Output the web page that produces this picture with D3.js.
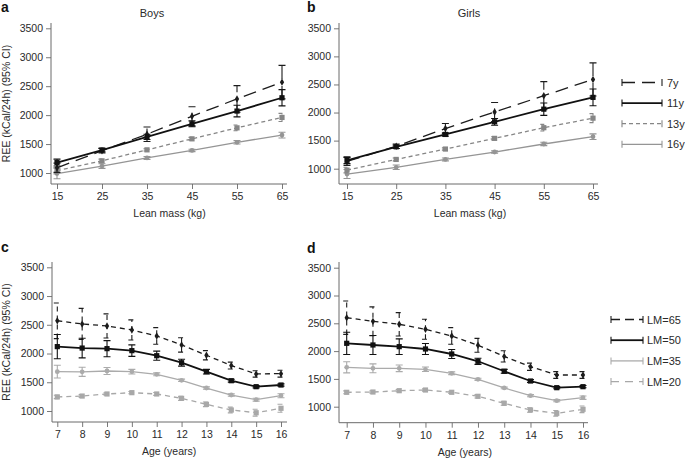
<!DOCTYPE html>
<html><head><meta charset="utf-8">
<script src="https://cdn.jsdelivr.net/npm/d3@7"></script>
<style>
html,body{margin:0;padding:0;background:#fff;}
svg{display:block;font-family:"Liberation Sans",Arial,Helvetica,sans-serif;}
</style></head>
<body><svg id="chart" width="685" height="459"></svg>
<script>
// ---------------- data ----------------
const leanMassTicks = [15, 25, 35, 45, 55, 65];
const ageTicks = [7, 8, 9, 10, 11, 12, 13, 14, 15, 16];
const reeTicks = [1000, 1500, 2000, 2500, 3000, 3500];

const ageGroups = ["7y", "11y", "13y", "16y"];
const leanMassGroups = ["LM=65", "LM=50", "LM=35", "LM=20"];

// Panel a: Boys, REE by lean mass (mean and half-width of 95% CI)
const boys7y    = [1090, 1385, 1670, 1980, 2280, 2570];
const boys7yCI  = [80, 40, 125, 165, 230, 290];
const boys11y   = [1180, 1395, 1625, 1850, 2070, 2300];
const boys11yCI = [60, 30, 45, 50, 100, 140];
const boys13y   = [1040, 1210, 1400, 1590, 1780, 1960];
const boys13yCI = [55, 30, 20, 25, 50, 70];
const boys16y   = [990, 1120, 1260, 1390, 1530, 1655];
const boys16yCI = [90, 40, 25, 20, 30, 50];

// Panel b: Girls, REE by lean mass
const girls7y    = [1130, 1400, 1715, 2010, 2300, 2590];
const girls7yCI  = [70, 40, 90, 170, 250, 295];
const girls11y   = [1150, 1390, 1610, 1835, 2060, 2270];
const girls11yCI = [60, 30, 30, 60, 110, 150];
const girls13y   = [975, 1165, 1350, 1540, 1730, 1900];
const girls13yCI = [50, 25, 20, 30, 60, 80];
const girls16y   = [905, 1025, 1165, 1297, 1440, 1570];
const girls16yCI = [80, 40, 25, 20, 30, 50];

// Panel c: Boys, REE by age
const boysLM65   = [2570, 2515, 2480, 2410, 2305, 2150, 1970, 1790, 1645, 1650];
const boysLM65CI = [310, 270, 210, 175, 145, 125, 80, 60, 55, 60];
const boysLM50   = [2120, 2095, 2085, 2050, 1962, 1840, 1685, 1527, 1423, 1452];
const boysLM50CI = [210, 170, 140, 100, 80, 60, 40, 25, 20, 20];
const boysLM35   = [1685, 1682, 1696, 1684, 1638, 1534, 1400, 1278, 1197, 1266];
const boysLM35CI = [110, 80, 60, 40, 25, 20, 20, 20, 25, 35];
const boysLM20   = [1245, 1260, 1296, 1319, 1296, 1220, 1116, 1017, 970, 1047];
const boysLM20CI = [30, 25, 20, 20, 25, 35, 40, 50, 60, 70];

// Panel d: Girls, REE by age
const girlsLM65   = [2600, 2535, 2482, 2392, 2272, 2104, 1905, 1719, 1570, 1570];
const girlsLM65CI = [300, 260, 210, 180, 150, 125, 100, 65, 60, 60];
const girlsLM50   = [2140, 2110, 2080, 2038, 1948, 1817, 1637, 1462, 1342, 1360];
const girlsLM50CI = [200, 170, 140, 100, 80, 55, 35, 25, 20, 20];
const girlsLM35   = [1709, 1691, 1691, 1673, 1601, 1493, 1337, 1198, 1108, 1162];
const girlsLM35CI = [100, 80, 60, 40, 25, 20, 15, 20, 20, 30];
const girlsLM20   = [1259, 1264, 1288, 1300, 1259, 1187, 1061, 941, 881, 953];
const girlsLM20CI = [25, 20, 20, 20, 20, 30, 35, 40, 50, 60];

// ---------------- styles ----------------
const ageStyles = {
  "7y":  {color: "#1c1c1c", width: 1.3, dash: "13,7", marker: "diamond"},
  "11y": {color: "#111111", width: 1.8, dash: null, marker: "square"},
  "13y": {color: "#868686", width: 1.3, dash: "4,3", marker: "square"},
  "16y": {color: "#959595", width: 1.3, dash: null, marker: "circle"}
};
const lmStyles = {
  "LM=65": {color: "#1c1c1c", width: 1.3, dash: "5,4", marker: "diamond", legendDash: "9,5"},
  "LM=50": {color: "#111111", width: 1.8, dash: null, marker: "square"},
  "LM=35": {color: "#ababab", width: 1.3, dash: null, marker: "circle"},
  "LM=20": {color: "#a8a8a8", width: 1.3, dash: "5,4", marker: "square", legendDash: "8,6"}
};

// ---------------- layout ----------------
const panels = [
  {letter: "a", title: "Boys", titleX: 152, xTicks: leanMassTicks, xLabel: "Lean mass (kg)", yLabel: true,
   xPix: [57, 282], yPix: [173, 28.3], left: 51, right: 287, top: 23, bottom: 184, letterX: 1, letterY: 12,
   groups: ageGroups, styles: ageStyles,
   series: [[boys7y, boys7yCI], [boys11y, boys11yCI], [boys13y, boys13yCI], [boys16y, boys16yCI]]},
  {letter: "b", title: "Girls", titleX: 469, xTicks: leanMassTicks, xLabel: "Lean mass (kg)", yLabel: false,
   xPix: [347, 593], yPix: [168.7, 28.3], left: 339, right: 598, top: 23, bottom: 184, letterX: 307, letterY: 12,
   groups: ageGroups, styles: ageStyles,
   series: [[girls7y, girls7yCI], [girls11y, girls11yCI], [girls13y, girls13yCI], [girls16y, girls16yCI]]},
  {letter: "c", title: null, xTicks: ageTicks, xLabel: "Age (years)", yLabel: true,
   xPix: [57.3, 281], yPix: [411, 267.3], left: 52, right: 287, top: 262, bottom: 422, letterX: 1, letterY: 252,
   groups: leanMassGroups, styles: lmStyles,
   series: [[boysLM65, boysLM65CI], [boysLM50, boysLM50CI], [boysLM35, boysLM35CI], [boysLM20, boysLM20CI]]},
  {letter: "d", title: null, xTicks: ageTicks, xLabel: "Age (years)", yLabel: false,
   xPix: [346.7, 583], yPix: [406.7, 267.7], left: 339, right: 588, top: 262, bottom: 422.7, letterX: 307, letterY: 253,
   groups: leanMassGroups, styles: lmStyles,
   series: [[girlsLM65, girlsLM65CI], [girlsLM50, girlsLM50CI], [girlsLM35, girlsLM35CI], [girlsLM20, girlsLM20CI]]}
];

const svg = d3.select("#chart");
const FONT = 10.5;
const axisColor = "#6a6a6a";
const textColor = "#2a2a2a";

function drawMarker(g, shape, cx, cy, color) {
  if (shape === "square") {
    g.append("rect").attr("x", cx - 2.6).attr("y", cy - 2.6).attr("width", 5.2).attr("height", 5.2).attr("fill", color);
  } else if (shape === "diamond") {
    g.append("path").attr("d", d3.symbol().type(d3.symbolDiamond).size(16)()).attr("transform", `translate(${cx},${cy})`).attr("fill", color);
  } else {
    g.append("circle").attr("cx", cx).attr("cy", cy).attr("r", 2.4).attr("fill", color);
  }
}

panels.forEach(p => {
  const g = svg.append("g");
  const x = d3.scaleLinear().domain([p.xTicks[0], p.xTicks[p.xTicks.length - 1]]).range(p.xPix);
  const y = d3.scaleLinear().domain([reeTicks[0], reeTicks[reeTicks.length - 1]]).range(p.yPix);

  // axes
  const ya = g.append("g").attr("transform", `translate(${p.left},0)`)
    .call(d3.axisLeft(y).tickValues(reeTicks).tickSize(5).tickPadding(3).tickFormat(d3.format("d")));
  ya.select(".domain").remove();
  const xa = g.append("g").attr("transform", `translate(0,${p.bottom})`)
    .call(d3.axisBottom(x).tickValues(p.xTicks).tickSize(5).tickPadding(4).tickFormat(d3.format("d")));
  xa.select(".domain").remove();
  [ya, xa].forEach(a => {
    a.selectAll("line").attr("stroke", axisColor).attr("stroke-width", 0.9);
    a.selectAll("text").attr("fill", textColor).style("font-size", FONT + "px").style("font-family", "'Liberation Sans',Arial,sans-serif");
  });
  g.append("path").attr("d", `M${p.left},${p.top}V${p.bottom}H${p.right}`)
    .attr("fill", "none").attr("stroke", axisColor).attr("stroke-width", 1);

  // labels
  g.append("text").attr("x", p.letterX).attr("y", p.letterY).text(p.letter)
    .attr("font-weight", "bold").attr("font-size", 14).attr("fill", "#111");
  if (p.title) g.append("text").attr("x", p.titleX).attr("y", 17).attr("text-anchor", "middle")
    .attr("font-size", 11).attr("fill", textColor).text(p.title);
  g.append("text").attr("x", (p.xPix[0] + p.xPix[1]) / 2).attr("y", p.bottom + 33).attr("text-anchor", "middle")
    .attr("font-size", FONT).attr("fill", textColor).text(p.xLabel);
  if (p.yLabel) {
    const cy = (p.top + p.bottom) / 2;
    g.append("text").attr("transform", `translate(10,${cy}) rotate(-90)`).attr("text-anchor", "middle")
      .attr("font-size", FONT).attr("fill", textColor).text("REE (kCal/24h) (95% CI)");
  }

  // series: draw lighter ones first
  const order = [3, 2, 0, 1];
  order.forEach(i => {
    const [vals, ci] = p.series[i];
    const st = p.styles[p.groups[i]];
    const sg = g.append("g");
    const line = d3.line().x((d, j) => x(p.xTicks[j])).y(d => y(d));
    sg.append("path").datum(vals).attr("d", line).attr("fill", "none")
      .attr("stroke", st.color).attr("stroke-width", st.width)
      .attr("stroke-dasharray", st.dash);
    vals.forEach((v, j) => {
      const cx = x(p.xTicks[j]);
      const lo = y(v - ci[j]), hi = y(v + ci[j]);
      sg.append("path").attr("d", `M${cx},${lo}V${hi}M${cx - 3.5},${hi}H${cx + 3.5}M${cx - 3.5},${lo}H${cx + 3.5}`)
        .attr("fill", "none").attr("stroke", st.color).attr("stroke-width", 1.1)
        .attr("stroke-dasharray", st.dash);
      drawMarker(sg, st.marker, cx, y(v), st.color);
    });
  });
});

// legends
const legends = [
  {groups: ageGroups, styles: ageStyles, x0: 622, x1: 662, tx: 667, y0: 82.5, dy: 20.6},
  {groups: leanMassGroups, styles: lmStyles, x0: 611, x1: 643, tx: 647, y0: 319.5, dy: 20.7}
];
legends.forEach(L => {
  L.groups.forEach((name, i) => {
    const st = L.styles[name];
    const yy = L.y0 + i * L.dy;
    svg.append("line").attr("x1", L.x0).attr("x2", L.x1).attr("y1", yy).attr("y2", yy)
      .attr("stroke", st.color).attr("stroke-width", st.width)
      .attr("stroke-dasharray", st.legendDash || st.dash);
    [L.x0, L.x1].forEach(xx => svg.append("line").attr("x1", xx).attr("x2", xx).attr("y1", yy - 3.5).attr("y2", yy + 3.5)
      .attr("stroke", st.color).attr("stroke-width", 1.1));
    svg.append("text").attr("x", L.tx).attr("y", yy + 4).attr("font-size", FONT + 0.5)
      .attr("fill", textColor).text(name);
  });
});
</script>
</body></html>
